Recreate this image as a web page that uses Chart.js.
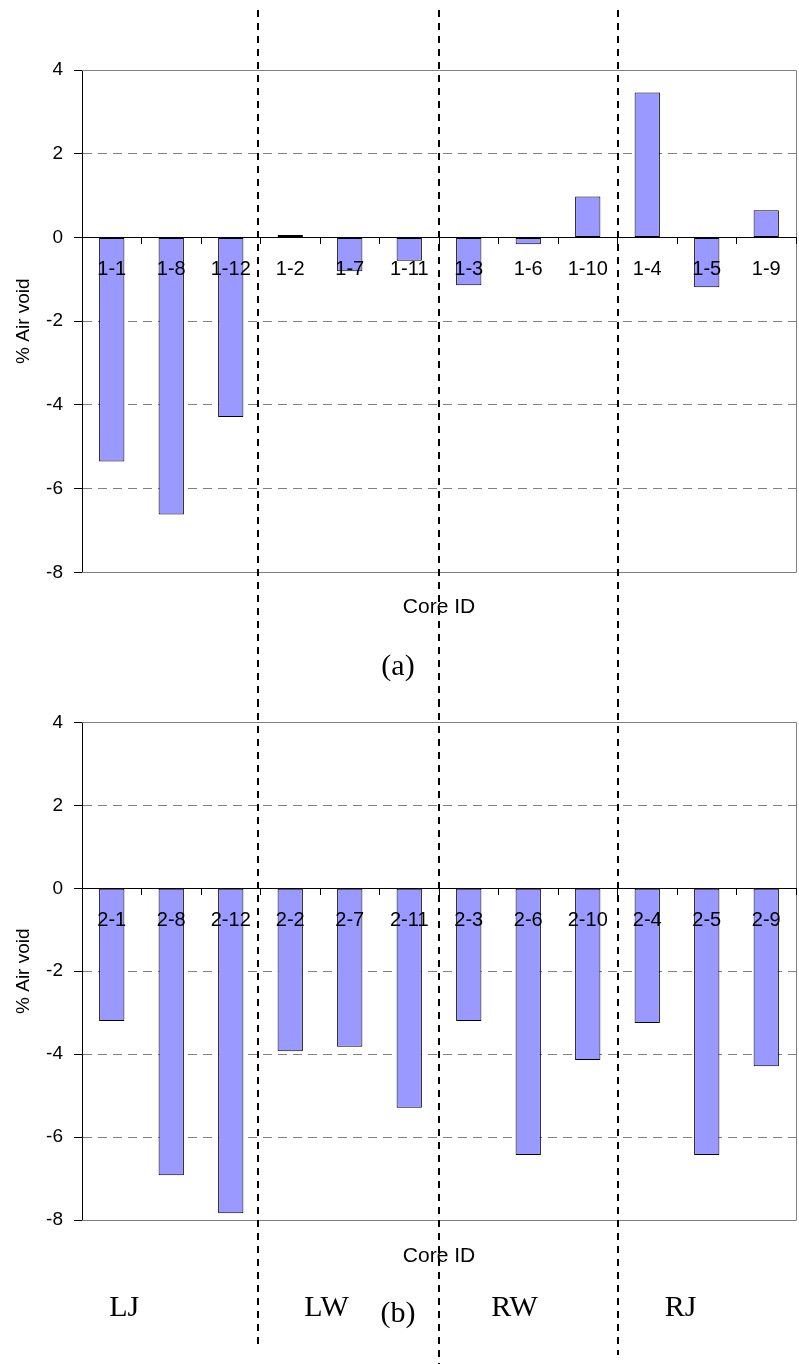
<!DOCTYPE html>
<html>
<head>
<meta charset="utf-8">
<script src="https://cdn.jsdelivr.net/npm/chart.js@4"></script>
<style>
  body { margin: 0; background: #fff; }
  canvas { display: block; }
</style>
</head>
<body>
<canvas id="chart-a" width="799" height="700"></canvas>
<canvas id="chart-b" width="799" height="664"></canvas>
<script>
// core ids and % air void change
const coresA = ['1-1', '1-8', '1-12', '1-2', '1-7', '1-11', '1-3', '1-6', '1-10', '1-4', '1-5', '1-9'];
const voidsA = [-5.35, -6.62, -4.29, 0.06, -0.81, -0.56, -1.14, -0.16, 0.98, 3.46, -1.19, 0.65];

const coresB = ['2-1', '2-8', '2-12', '2-2', '2-7', '2-11', '2-3', '2-6', '2-10', '2-4', '2-5', '2-9'];
const voidsB = [-3.20, -6.92, -7.84, -3.93, -3.82, -5.29, -3.20, -6.43, -4.14, -3.25, -6.43, -4.29];

const groups = ['LJ', 'LW', 'RW', 'RJ'];
const yMin = -8, yMax = 4, yStep = 2;

// where the group dividers / group names sit, in category units
const dividerAt = [2.46, 5.5, 8.5];
const groupAt = [0.21, 3.61, 6.77, 9.56];

const sans = '"Liberation Sans", Arial, sans-serif';
const serif = '"Liberation Serif", "Times New Roman", serif';

const framePlugin = {
    id: 'frame',
    beforeDatasetsDraw(chart) {
        const {ctx, chartArea: a} = chart;
        ctx.save();
        ctx.strokeStyle = '#808080';
        ctx.lineWidth = 1;
        ctx.beginPath();
        ctx.moveTo(Math.round(a.left), Math.round(a.top) + 0.5);
        ctx.lineTo(Math.round(a.right) + 0.5, Math.round(a.top) + 0.5);
        ctx.lineTo(Math.round(a.right) + 0.5, Math.round(a.bottom) + 0.5);
        ctx.lineTo(Math.round(a.left), Math.round(a.bottom) + 0.5);
        ctx.stroke();
        ctx.restore();
    }
};

const dividerPlugin = {
    id: 'dividers',
    afterDraw(chart, args, opts) {
        const ctx = chart.ctx;
        const x = chart.scales.x;
        ctx.save();
        ctx.strokeStyle = '#000';
        ctx.lineWidth = 2;
        ctx.setLineDash([7, 6]);
        dividerAt.forEach((v, i) => {
            const px = Math.round(x.getPixelForValue(v));
            ctx.beginPath();
            ctx.moveTo(px, opts.from);
            ctx.lineTo(px, opts.to[i]);
            ctx.stroke();
        });
        ctx.setLineDash([]);
        if (opts.groupY) {
            ctx.fillStyle = '#000';
            ctx.font = '30px ' + serif;
            ctx.textAlign = 'center';
            ctx.textBaseline = 'alphabetic';
            groups.forEach((g, i) => {
                ctx.fillText(g, x.getPixelForValue(groupAt[i]), opts.groupY);
            });
        }
        ctx.restore();
    }
};

function airVoidChart(id, cores, values, lay) {
    return new Chart(document.getElementById(id), {
        type: 'bar',
        data: {
            labels: cores,
            datasets: [{
                data: values,
                backgroundColor: '#9999ff',
                borderColor: '#000',
                borderWidth: 1,
                borderSkipped: false,
                barPercentage: 0.425,
                categoryPercentage: 1
            }]
        },
        options: {
            responsive: false,
            animation: false,
            devicePixelRatio: 1,
            layout: {padding: {top: lay.top, bottom: lay.bottom, left: 0, right: 3}},
            plugins: {
                legend: {display: false},
                tooltip: {enabled: false},
                subtitle: {
                    display: true,
                    text: 'Core ID',
                    position: 'bottom',
                    fullSize: false,
                    weight: 1500,
                    color: '#000',
                    font: {family: sans, size: 21, weight: 'normal'},
                    padding: {top: lay.idGap, bottom: 0}
                },
                title: {
                    display: true,
                    text: lay.tag,
                    position: 'bottom',
                    weight: 2000,
                    color: '#000',
                    font: {family: serif, size: 30, weight: 'normal'},
                    padding: {top: lay.tagGap, bottom: 0}
                },
                dividers: lay.dividers
            },
            scales: {
                x: {
                    position: {y: 0},
                    offset: true,
                    grid: {
                        display: true,
                        drawOnChartArea: false,
                        drawTicks: true,
                        tickLength: 6,
                        tickColor: '#000',
                        offset: true,
                        z: 1
                    },
                    border: {color: '#000', width: 1, z: 1},
                    ticks: {
                        color: '#000',
                        padding: 14,
                        autoSkip: false,
                        maxRotation: 0,
                        z: 1,
                        font: {family: sans, size: 20}
                    }
                },
                y: {
                    min: yMin,
                    max: yMax,
                    afterFit(scale) { scale.width = 82; },
                    ticks: {
                        stepSize: yStep,
                        color: '#000',
                        padding: 11,
                        font: {family: sans, size: 19}
                    },
                    grid: {color: '#808080', tickColor: '#000', tickLength: 8},
                    border: {color: '#000', width: 1, dash: [9, 6]},
                    title: {
                        display: true,
                        text: '% Air void',
                        color: '#000',
                        font: {family: sans, size: 19},
                        padding: {top: 12, bottom: 0}
                    }
                }
            }
        },
        plugins: [framePlugin, dividerPlugin]
    });
}

airVoidChart('chart-a', coresA, voidsA, {
    top: 70, bottom: 15, idGap: 22, tagGap: 29.5, tag: '(a)',
    dividers: {from: 10, to: [700, 700, 700]}
});

airVoidChart('chart-b', coresB, voidsB, {
    top: 16.7, bottom: 31.8, idGap: 24, tagGap: 27, tag: '(b)',
    dividers: {from: 0, to: [647, 664, 655], groupY: 616}
});
</script>
</body>
</html>
